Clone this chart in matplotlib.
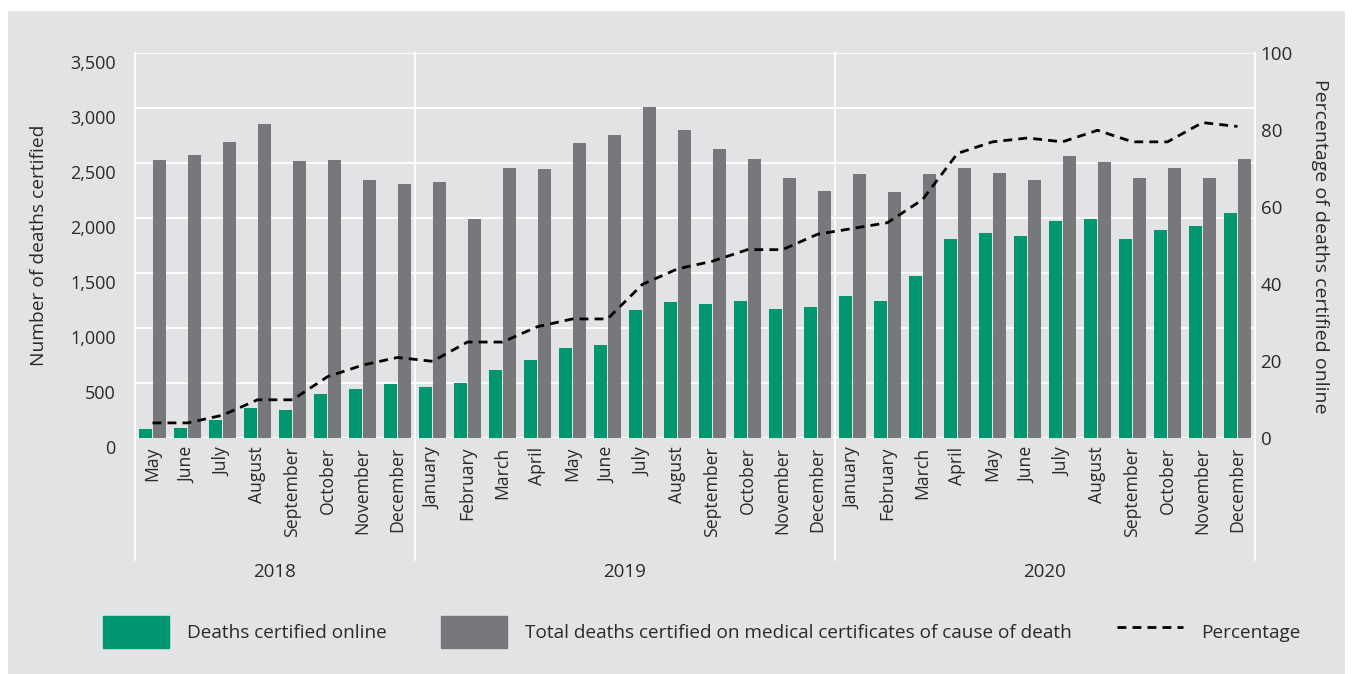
import matplotlib
matplotlib.use("Agg")
import matplotlib.pyplot as plt
import matplotlib.transforms as mtransforms
import matplotlib.patches as mpatches
from matplotlib.lines import Line2D
import numpy as np

plt.rcParams['font.family'] = ['Open Sans', 'DejaVu Sans']

# data
months = ["May", "June", "July", "August", "September", "October", "November", "December",
          "January", "February", "March", "April", "May", "June", "July", "August",
          "September", "October", "November", "December",
          "January", "February", "March", "April", "May", "June", "July", "August",
          "September", "October", "November", "December"]
years = ["2018", "2019", "2020"]
year_sizes = [8, 12, 12]

online = [85, 94, 167, 276, 258, 403, 448, 494,
          467, 503, 620, 712, 818, 845, 1164, 1236, 1218, 1248, 1175, 1194,
          1294, 1248, 1475, 1812, 1866, 1839, 1975, 1994, 1812, 1894, 1930, 2048]
total = [2530, 2575, 2694, 2857, 2520, 2530, 2348, 2311,
         2330, 1994, 2457, 2448, 2685, 2757, 3012, 2803, 2630, 2539, 2366, 2248,
         2403, 2239, 2403, 2457, 2412, 2348, 2566, 2512, 2366, 2457, 2366, 2539]
percentage = [4, 4, 6, 10, 10, 16, 19, 21,
              20, 25, 25, 29, 31, 31, 40, 44, 46, 49, 49, 53,
              54.5, 56, 62, 74, 77, 78, 77, 80, 77, 77, 82, 81]

GREEN = "#009670"
GREY = "#77787b"
BG = "#e2e3e5"
TXT = "#2a2a2c"
DASH = (0, (3.2, 2.2))

fig = plt.figure(figsize=(13.53, 6.74), dpi=100)
fig.patch.set_facecolor("white")
# grey panel with a thin white margin
fig.patches.append(mpatches.Rectangle((8 / 1353, 0), 1337 / 1353, 663 / 674,
                                      transform=fig.transFigure, facecolor=BG,
                                      edgecolor="none", zorder=-10))

ax = fig.add_axes([135 / 1353, 235.7 / 674, 1120 / 1353, 385 / 674])
ax.set_facecolor(BG)
x = np.arange(len(months))
w = 0.37
ax.bar(x - 0.2, online, width=w, color=GREEN, zorder=3)
ax.bar(x + 0.2, total, width=w, color=GREY, zorder=3)

ax.set_xlim(-0.5, len(months) - 0.5)
ax.set_ylim(0, 3500)
ax.set_yticks(np.arange(0, 3501, 500))
ax.set_yticklabels([f"{v:,}" for v in range(0, 3501, 500)])
ax.grid(axis="y", color="white", linewidth=1.3, zorder=0)
ax.set_axisbelow(True)
for s in ax.spines.values():
    s.set_visible(False)
ax.tick_params(axis="both", length=0, colors=TXT, labelsize=13)
ax.tick_params(axis="y", pad=14)
offset = mtransforms.ScaledTranslation(0, -9 / 100, fig.dpi_scale_trans)
for lab in ax.get_yticklabels():
    lab.set_transform(lab.get_transform() + offset)
ax.set_xticks(x)
ax.set_xticklabels(months, rotation=90, fontsize=12.7, color=TXT)
ax.tick_params(axis="x", pad=6)
ax.set_ylabel("Number of deaths certified", fontsize=13.8, color=TXT, labelpad=16)

# year separators and labels
bounds = np.concatenate([[0], np.cumsum(year_sizes)]) - 0.5
for b in bounds:
    ax.axvline(b, ymin=-0.316, ymax=1, color="white", linewidth=1.3,
               clip_on=False, zorder=1)
for i, yr in enumerate(years):
    ax.text((bounds[i] + bounds[i + 1]) / 2, -0.325, yr, transform=ax.get_xaxis_transform(),
            ha="center", va="top", fontsize=13.5, color=TXT)

ax2 = ax.twinx()
ax2.plot(x, percentage, color="black", linestyle=DASH, linewidth=2, zorder=5)
ax2.set_ylim(0, 100)
ax2.set_yticks(range(0, 101, 20))
for s in ax2.spines.values():
    s.set_visible(False)
ax2.tick_params(axis="y", length=0, colors=TXT, labelsize=13.5, pad=4)
ax2.set_ylabel("Percentage of deaths certified online", rotation=270, fontsize=14,
               color=TXT, labelpad=26)

# legend: one entry per block, placed like the original
handles = [mpatches.Patch(color=GREEN, label="Deaths certified online"),
           mpatches.Patch(color=GREY, label="Total deaths certified on medical certificates of cause of death"),
           Line2D([0], [0], color="black", linestyle=DASH, linewidth=2, label="Percentage")]
starts = [103, 441, 1117]
for h, sx in zip(handles, starts):
    leg = fig.legend(handles=[h], loc="center left",
                     bbox_to_anchor=((sx - 17) / 1353, 1 - 632 / 674),
                     frameon=False, fontsize=13.7, handlelength=3.45, handleheight=2.2,
                     handletextpad=0.95)
    for t in leg.get_texts():
        t.set_color(TXT)

fig.savefig("out.png", dpi=100, facecolor=fig.get_facecolor())
